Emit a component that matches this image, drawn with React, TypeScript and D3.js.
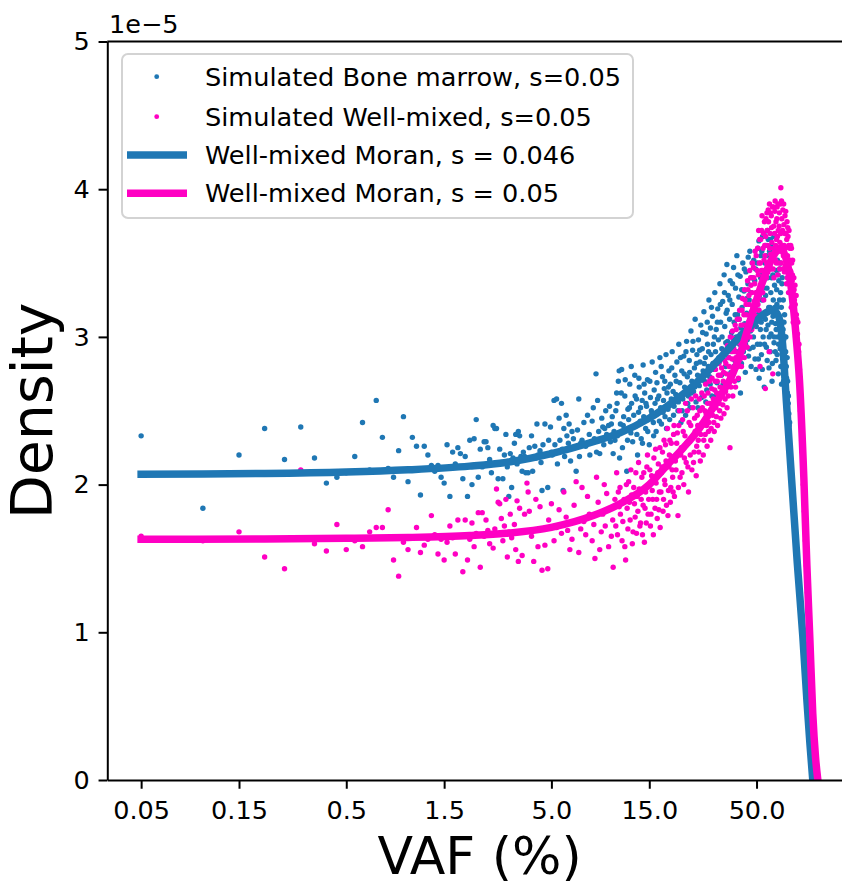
import React, { useEffect, useRef } from 'react';
import * as d3 from 'd3';

// VAF (%) ticks
const xTickValues = [0.05, 0.15, 0.5, 1.5, 5, 15, 50];
const xTickLabels = ['0.05', '0.15', '0.5', '1.5', '5.0', '15.0', '50.0'];
const yTickValues = [0, 1, 2, 3, 4, 5];

// density values are in units of 1e-5
const boneMarrowPoints: [number, number][] = [
  [0.05, 2.33], [0.1, 1.84], [0.15, 2.2], [0.2, 2.38], [0.25, 2.17], [0.3, 2.39], [0.35, 2.18], [0.4, 2.01],
  [0.45, 2.05], [0.5, 2.08], [0.55, 2.19], [0.6, 2.42], [0.65, 2.1], [0.7, 2.57], [0.75, 2.32], [0.8, 2.11],
  [0.85, 2.05], [0.9, 2.23], [0.95, 2.46], [1.0, 2.02], [1.05, 2.32], [1.1, 2.26], [1.15, 1.93], [1.2, 2.26],
  [1.25, 2.2], [1.3, 2.13], [1.35, 2.09], [1.4, 2.13], [1.45, 2.05], [1.5, 2.01], [1.55, 2.27], [1.6, 1.92],
  [1.65, 2.22], [1.7, 2.14], [1.75, 2.25], [1.8, 2.21], [1.85, 2.04], [1.9, 2.19], [1.95, 1.92], [2.0, 2.3],
  [2.05, 2.0], [2.1, 2.31], [2.15, 2.44], [2.2, 2.05], [2.25, 2.24], [2.3, 2.12], [2.35, 2.29], [2.4, 2.29],
  [2.45, 2.25], [2.5, 2.17], [2.55, 2.08], [2.6, 2.4], [2.65, 2.38], [2.7, 2.38], [2.75, 2.04], [2.8, 2.24],
  [2.85, 2.15], [2.9, 2.04], [2.95, 2.2], [3.0, 2.34], [3.05, 2.12], [3.1, 1.92], [3.15, 2.21], [3.2, 1.98],
  [3.25, 2.18], [3.3, 2.28], [3.35, 2.34], [3.4, 2.14], [3.45, 2.36], [3.5, 2.33], [3.55, 2.19], [3.6, 2.09],
  [3.65, 2.22], [3.7, 2.19], [3.75, 2.08], [3.85, 2.08], [3.9, 2.25], [4.0, 2.33], [4.05, 2.09], [4.15, 2.26],
  [4.2, 2.18], [4.25, 2.41], [4.3, 2.2], [4.4, 2.23], [4.45, 2.15], [4.5, 1.96], [4.55, 2.27], [4.65, 2.41],
  [4.7, 2.2], [4.8, 1.98], [4.85, 2.3], [4.95, 2.39],
  [5.0, 2.22], [5.05, 2.2], [5.15, 2.57], [5.2, 2.27], [5.3, 2.58], [5.35, 2.14], [5.45, 2.45], [5.5, 2.3],
  [5.6, 2.55], [5.65, 2.24], [5.7, 1.96], [5.75, 2.38], [5.8, 2.19], [5.9, 2.47], [5.95, 2.33], [6.05, 2.28],
  [6.1, 2.41], [6.2, 2.16], [6.3, 2.36], [6.4, 2.31], [6.5, 2.25], [6.6, 2.09], [6.7, 2.37], [6.8, 2.58],
  [6.85, 2.19], [6.95, 2.28], [7.05, 2.3], [7.2, 2.42], [7.35, 2.26], [7.5, 2.47], [7.65, 2.34], [7.7, 2.2],
  [7.8, 2.29], [7.9, 2.43], [8.0, 2.52], [8.1, 2.31], [8.25, 2.75], [8.3, 2.22], [8.4, 2.57], [8.5, 2.36],
  [8.6, 2.21], [8.7, 2.3], [8.8, 2.45], [8.9, 2.39], [9.0, 2.27], [9.1, 2.38], [9.2, 2.5], [9.3, 2.34],
  [9.4, 2.32], [9.5, 2.4], [9.6, 2.53], [9.7, 2.29], [9.8, 2.41], [9.9, 2.46], [10.0, 2.21], [10.1, 2.36],
  [10.2, 2.3], [10.3, 2.5], [10.4, 2.62],
  [10.5, 2.33], [10.6, 2.7], [10.7, 2.77], [10.85, 2.41], [11.0, 2.78], [11.1, 2.25], [11.25, 2.46], [11.4, 2.6],
  [11.5, 2.37], [11.65, 2.09], [11.8, 2.51], [11.9, 2.44], [12.05, 2.68], [12.2, 2.35], [12.3, 2.55], [12.45, 2.29],
  [12.6, 2.47], [12.75, 2.74], [12.85, 2.4], [13.0, 2.58], [13.15, 2.2], [13.3, 2.49], [13.4, 2.66], [13.55, 2.43],
  [13.7, 2.31], [13.85, 2.57], [14.0, 2.81], [14.1, 2.46], [14.25, 2.62], [14.4, 2.38], [14.55, 2.53], [14.7, 2.71],
  [14.85, 2.44], [15.0, 2.27], [15.2, 2.59], [15.35, 2.5], [15.5, 2.83], [15.7, 2.42], [15.85, 2.64], [16.0, 2.55],
  [16.2, 2.36], [16.35, 2.69], [16.5, 2.48], [16.7, 2.6], [16.9, 2.86], [17.05, 2.52], [17.2, 2.41], [17.4, 2.73],
  [17.6, 2.57], [17.75, 2.65], [17.9, 2.46], [18.1, 2.88], [18.3, 2.62], [18.5, 2.51], [18.7, 2.77], [18.85, 2.44],
  [19.0, 2.68], [19.2, 2.58], [19.4, 2.9], [19.6, 2.63], [19.8, 2.53], [20.0, 2.74],
  [20.2, 2.61], [20.45, 2.83], [20.7, 2.5], [20.9, 2.95], [21.15, 2.69], [21.4, 2.42], [21.6, 2.77], [21.85, 2.58],
  [22.1, 2.87], [22.3, 2.66], [22.55, 2.47], [22.8, 2.97], [23.0, 2.73], [23.25, 2.6], [23.5, 2.84], [23.7, 2.52],
  [23.95, 3.04], [24.2, 2.7], [24.4, 2.91], [24.65, 2.63], [24.9, 2.79], [25.1, 3.12], [25.35, 2.56], [25.6, 2.88],
  [25.8, 2.74], [26.05, 2.98], [26.3, 2.67], [26.5, 2.83], [26.75, 3.08], [27.0, 2.59], [27.2, 2.92], [27.45, 2.77],
  [27.7, 3.17], [27.9, 2.7], [28.15, 2.86], [28.4, 3.02], [28.6, 2.64], [28.85, 2.95], [29.1, 2.8], [29.3, 3.25],
  [29.55, 2.73], [29.8, 3.06], [30.0, 2.88], [30.3, 2.6], [30.5, 3.14], [30.8, 2.95], [31.05, 2.78], [31.3, 3.3],
  [31.55, 2.9], [31.8, 3.05], [32.1, 2.69], [32.35, 3.19], [32.6, 2.98], [32.9, 2.83], [33.15, 3.36], [33.4, 3.1],
  [33.7, 2.74], [33.95, 3.0], [34.2, 3.24], [34.5, 2.91], [34.75, 3.42], [35.0, 3.07], [35.3, 2.8], [35.55, 3.16],
  [35.85, 3.49], [36.1, 2.97], [36.4, 3.28], [36.65, 2.86], [36.95, 3.12], [37.2, 3.38], [37.5, 2.76], [37.8, 3.03],
  [38.05, 3.22], [38.35, 2.93], [38.65, 3.47], [38.9, 3.1], [39.2, 2.84], [39.5, 3.33], [39.8, 3.0], [40.1, 3.55],
  [40.4, 3.15], [40.7, 2.71], [41.0, 3.27], [41.3, 2.95], [41.6, 3.41], [41.9, 3.06], [42.2, 2.82], [42.5, 3.2],
  [42.85, 3.5], [43.15, 2.9], [43.45, 3.31], [43.8, 3.09], [44.1, 2.76], [44.4, 3.44], [44.75, 3.16], [45.05, 2.98],
  [45.4, 3.36], [45.7, 2.87], [46.05, 3.25], [46.4, 3.58], [46.7, 3.04], [47.05, 2.8], [47.4, 3.4], [47.75, 3.13],
  [48.1, 2.93], [48.45, 3.52], [48.8, 3.22], [49.15, 2.85], [49.5, 3.46], [49.85, 3.07],
  [50.2, 3.3], [50.5, 2.95], [50.85, 3.6], [51.2, 3.18], [51.5, 2.72], [51.85, 3.42], [52.2, 3.05], [52.5, 3.55],
  [52.85, 2.88], [53.2, 3.25], [53.5, 3.68], [53.85, 3.0], [54.2, 3.38], [54.5, 2.66], [54.85, 3.5], [55.2, 3.12],
  [55.5, 3.62], [55.85, 2.93], [56.2, 3.33], [56.5, 3.72], [56.85, 3.08], [57.2, 3.46], [57.5, 2.79], [57.85, 3.58],
  [58.2, 3.2], [58.5, 3.66], [58.85, 3.02], [59.2, 3.4], [59.5, 2.7], [59.85, 3.52], [60.2, 3.14], [60.5, 3.6],
  [60.85, 2.96], [61.2, 3.35], [61.5, 3.57], [61.85, 3.09], [62.2, 2.84], [62.5, 3.45], [62.85, 3.22], [63.2, 3.52],
  [63.5, 3.0], [63.85, 2.75], [64.2, 3.38], [64.5, 3.13], [64.85, 3.46], [65.2, 2.92], [65.5, 3.3], [65.85, 3.05],
  [66.2, 2.68], [66.5, 3.36], [66.85, 3.1], [67.2, 2.88], [67.5, 3.25], [67.85, 2.98], [68.2, 2.73], [68.5, 3.15],
  [68.85, 2.9], [69.2, 2.62], [69.5, 3.0], [69.85, 2.8], [70.2, 2.55], [70.5, 2.86], [70.85, 2.7], [71.2, 2.39],
  [71.5, 2.6], [71.85, 2.48], [72.2, 2.3], [72.5, 2.42],
  [73.0, 2.2], [74.0, 2.05], [75.0, 1.95], [76.0, 1.82], [77.0, 1.72], [78.0, 1.6], [79.0, 1.5], [80.0, 1.39],
  [81.0, 1.28], [82.0, 1.18], [83.0, 1.08], [84.0, 0.98], [85.0, 0.88], [86.0, 0.77], [87.0, 0.66], [88.0, 0.54],
  [89.0, 0.42], [90.0, 0.32], [91.0, 0.22], [92.0, 0.13], [93.0, 0.06],
  // denser part of the cloud
  [10.45, 2.55], [10.75, 2.18], [10.95, 2.62], [11.2, 2.4], [11.45, 2.71], [11.75, 2.3], [12.0, 2.52], [12.25, 2.8],
  [12.55, 2.39], [12.8, 2.6], [13.05, 2.34], [13.35, 2.72], [13.6, 2.52], [13.9, 2.28], [14.15, 2.68], [14.45, 2.55],
  [14.75, 2.36], [15.1, 2.7], [15.45, 2.48], [15.75, 2.33], [16.1, 2.76], [16.45, 2.58], [16.8, 2.43], [17.15, 2.8],
  [17.5, 2.49], [17.85, 2.7], [18.2, 2.38], [18.6, 2.66], [18.95, 2.55], [19.3, 2.79], [19.7, 2.47],
  [20.3, 2.7], [20.8, 2.56], [21.3, 2.86], [21.7, 2.5], [22.2, 2.75], [22.65, 2.9], [23.1, 2.55], [23.6, 2.76],
  [24.05, 2.62], [24.5, 2.97], [25.0, 2.66], [25.45, 2.82], [25.9, 2.52], [26.4, 2.91], [26.85, 2.72], [27.3, 3.03],
  [27.8, 2.82], [28.3, 2.56], [28.75, 3.1], [29.2, 2.9], [29.7, 2.68], [30.15, 3.2], [30.65, 2.82], [31.15, 3.0],
  [31.7, 2.6], [32.2, 3.1], [32.75, 2.86], [33.3, 3.22], [33.85, 2.92], [34.35, 2.68], [34.9, 3.3], [35.4, 2.96],
  [35.95, 3.18], [36.5, 2.7], [37.05, 3.25], [37.6, 3.0], [38.2, 3.36], [38.75, 2.8], [39.35, 3.15], [39.95, 2.9],
  [40.55, 3.42], [41.15, 3.12], [41.75, 2.62], [42.35, 3.32], [42.95, 3.02], [43.6, 3.46], [44.2, 2.95], [44.9, 3.26],
  [45.55, 3.54], [46.2, 2.92], [46.9, 3.3], [47.6, 3.5], [48.3, 3.0], [49.0, 3.38], [49.7, 2.78],
  [50.35, 3.5], [50.7, 3.15], [51.05, 2.85], [51.35, 3.65], [51.7, 3.28], [52.05, 2.95], [52.35, 3.4], [52.7, 3.1],
  [53.05, 3.58], [53.35, 2.78], [53.7, 3.33], [54.05, 3.15], [54.35, 3.7], [54.7, 2.95], [55.05, 3.45], [55.35, 3.28],
  [55.7, 3.05], [56.05, 3.55], [56.35, 2.84], [56.7, 3.4], [57.05, 3.66], [57.35, 3.2], [57.7, 3.0], [58.05, 3.48],
  [58.35, 2.9], [58.7, 3.3], [59.05, 3.62], [59.35, 3.1], [59.7, 2.82], [60.05, 3.42], [60.35, 3.25], [60.7, 3.68],
  [61.05, 3.0], [61.35, 3.2], [61.7, 2.9], [62.05, 3.6], [62.35, 3.05], [62.7, 3.32], [63.05, 2.88], [63.35, 3.2],
  [63.7, 3.42], [64.05, 2.95], [64.35, 3.6], [64.7, 3.25], [65.05, 3.0], [65.35, 3.5], [65.7, 2.8], [66.05, 3.2],
  [66.35, 2.98], [66.7, 3.4], [67.05, 2.8], [67.35, 3.05], [67.7, 2.7], [68.05, 3.1], [68.35, 2.85], [68.7, 3.0],
  [69.05, 2.75], [69.35, 2.9], [69.7, 2.6], [70.05, 2.72], [70.35, 2.5], [70.7, 2.62], [71.05, 2.45], [71.35, 2.55],
  [71.7, 2.35], [72.05, 2.4],
];

const wellMixedPoints: [number, number][] = [
  [0.05, 1.65], [0.1, 1.62], [0.15, 1.68], [0.2, 1.51], [0.25, 1.43], [0.3, 2.1], [0.35, 1.6], [0.4, 1.55],
  [0.45, 1.73], [0.5, 1.56], [0.55, 1.62], [0.6, 1.58], [0.65, 1.68], [0.7, 1.71], [0.75, 1.71], [0.8, 1.83],
  [0.85, 1.49], [0.9, 1.38], [0.95, 1.61], [1.0, 1.56], [1.05, 1.64], [1.1, 1.71], [1.15, 1.54], [1.2, 1.59],
  [1.25, 1.63], [1.3, 1.79], [1.35, 1.66], [1.4, 1.53], [1.45, 1.63], [1.5, 1.49], [1.55, 1.61], [1.6, 1.72],
  [1.65, 1.64], [1.7, 1.53], [1.75, 1.76], [1.8, 1.65], [1.85, 1.41], [1.9, 1.76], [1.95, 1.49], [2.0, 1.63],
  [2.05, 1.74], [2.1, 1.58], [2.15, 1.67], [2.2, 1.81], [2.25, 1.44], [2.3, 1.81], [2.35, 1.65], [2.4, 1.76],
  [2.45, 1.69], [2.5, 1.6], [2.55, 1.66], [2.6, 1.57], [2.65, 1.7], [2.7, 1.97], [2.75, 1.88], [2.8, 1.87],
  [2.85, 1.77], [2.9, 1.62], [2.95, 1.72], [3.0, 1.9], [3.05, 1.51], [3.1, 1.68], [3.15, 1.8], [3.2, 1.64],
  [3.25, 1.67], [3.3, 1.73], [3.35, 1.56], [3.4, 1.89], [3.45, 1.48], [3.5, 1.84], [3.6, 1.52], [3.7, 1.8],
  [3.8, 2.01], [3.85, 1.95], [3.9, 1.82], [4.0, 1.65], [4.1, 1.48], [4.2, 1.9], [4.3, 1.58], [4.4, 1.85],
  [4.5, 1.42], [4.65, 1.59], [4.8, 1.43], [4.85, 1.76],
  [5.0, 1.87], [5.15, 1.62], [5.3, 1.71], [5.45, 1.83], [5.6, 1.67], [5.75, 1.95], [5.9, 1.78], [6.0, 1.69],
  [6.15, 1.56], [6.3, 1.63], [6.45, 1.86], [6.6, 2.02], [6.8, 1.54], [6.95, 1.7], [7.05, 1.98], [7.2, 1.75],
  [7.35, 1.66], [7.5, 1.92], [7.65, 1.8], [7.9, 1.62], [8.05, 1.73], [8.15, 1.5], [8.3, 2.05], [8.45, 1.88],
  [8.6, 1.56], [8.75, 1.68], [8.9, 1.8], [9.05, 2.0], [9.15, 1.72], [9.3, 1.94], [9.5, 1.58], [9.65, 1.84],
  [9.8, 1.65], [9.95, 1.76], [10.0, 1.44], [10.2, 1.9],
  [10.3, 1.72], [10.4, 2.08], [10.6, 1.95], [10.7, 1.85], [10.85, 1.8], [11.05, 1.62], [11.3, 1.9], [11.5, 1.49],
  [11.7, 1.84], [11.9, 2.02], [12.1, 1.76], [12.3, 1.93], [12.5, 1.68], [12.7, 1.87], [12.9, 2.08], [13.0, 1.67],
  [13.2, 1.82], [13.4, 1.97], [13.6, 1.74], [13.8, 2.05], [14.0, 1.86], [14.2, 1.61], [14.4, 1.95], [14.6, 2.12],
  [14.8, 1.8], [15.0, 1.99], [15.2, 1.72], [15.4, 2.06], [15.6, 1.9], [15.8, 2.18], [16.0, 1.84], [16.2, 2.01],
  [16.4, 1.77], [16.6, 2.14], [16.8, 1.95], [16.95, 1.71], [17.2, 2.08], [17.4, 2.22], [17.6, 1.9], [17.8, 2.03],
  [18.0, 2.27], [18.2, 1.86], [18.5, 1.79], [18.7, 2.12], [18.9, 2.3], [19.1, 1.98], [19.3, 2.19], [19.5, 2.05],
  [19.7, 2.34], [19.9, 1.92], [20.1, 2.16],
  [20.4, 2.28], [20.7, 1.79], [20.9, 2.4], [21.2, 2.05], [21.5, 2.25], [21.8, 2.44], [22.1, 2.0], [22.4, 2.33],
  [22.7, 2.15], [23.0, 2.5], [23.3, 1.95], [23.6, 2.29], [23.9, 2.4], [24.2, 2.1], [24.5, 2.52], [24.8, 2.22],
  [25.1, 2.36], [25.4, 2.06], [25.7, 2.47], [26.0, 2.3], [26.3, 2.58], [26.6, 2.16], [26.9, 2.41], [27.2, 2.52],
  [27.5, 2.2], [27.8, 2.6], [28.1, 2.34], [28.4, 2.48], [28.7, 2.26], [29.0, 2.62], [29.3, 2.42], [29.6, 2.55],
  [29.9, 2.3], [30.2, 2.65], [30.5, 2.47], [30.8, 2.58], [31.1, 2.36], [31.4, 2.7], [31.7, 2.52], [32.0, 2.62],
  [32.3, 2.4], [32.6, 2.74], [32.9, 2.55], [33.2, 2.66], [33.5, 2.45], [33.8, 2.79], [34.1, 2.6], [34.4, 2.7],
  [34.7, 2.48], [35.0, 2.84], [35.3, 2.63], [35.6, 2.75], [35.9, 2.52], [36.2, 2.9], [36.5, 2.68], [36.8, 2.8],
  [37.1, 2.25], [37.4, 2.94], [37.7, 2.72], [38.0, 2.85], [38.3, 2.6], [38.6, 2.99], [38.9, 2.78], [39.2, 2.9],
  [39.5, 2.66], [39.8, 3.05], [40.1, 2.84], [40.5, 2.96], [40.8, 2.72], [41.1, 3.12], [41.5, 2.9], [41.8, 3.02],
  [42.2, 2.8], [42.5, 3.18], [42.9, 2.97], [43.2, 3.08], [43.6, 2.86], [43.9, 3.25], [44.3, 3.03], [44.6, 3.15],
  [45.0, 2.93], [45.4, 3.32], [45.7, 3.1], [46.1, 3.22], [46.5, 3.0], [46.8, 3.4], [47.2, 3.17], [47.6, 3.3],
  [47.9, 3.07], [48.3, 3.47], [48.7, 3.24], [49.0, 3.36], [49.4, 3.14], [49.8, 3.55],
  [50.2, 3.3], [50.6, 3.6], [51.0, 3.42], [51.4, 3.18], [51.8, 3.66], [52.0, 2.8], [52.2, 3.5], [52.6, 3.3],
  [53.0, 3.72], [53.4, 3.45], [53.8, 3.6], [54.2, 3.25], [54.6, 3.78], [55.0, 3.55], [55.2, 2.65], [55.4, 3.68],
  [55.8, 3.4], [56.2, 3.84], [56.6, 3.62], [57.0, 3.86], [57.4, 3.5], [57.6, 2.9], [57.8, 3.9], [58.2, 3.7],
  [58.6, 3.56], [59.0, 3.82], [59.4, 3.64], [59.8, 3.88], [60.0, 2.75], [60.2, 3.46], [60.6, 3.75], [61.0, 3.6],
  [61.4, 3.85], [61.8, 3.52], [62.2, 3.78], [62.6, 3.66], [63.0, 3.88], [63.4, 3.42], [63.8, 3.72], [64.2, 3.58],
  [64.6, 3.84], [65.0, 3.64], [65.7, 4.01], [66.0, 3.5], [66.4, 3.8], [66.8, 3.62], [67.2, 3.86], [67.6, 3.55],
  [68.0, 3.76], [68.4, 3.44], [68.8, 3.82], [69.2, 3.6], [69.6, 3.7], [70.0, 3.36], [70.4, 3.78], [70.8, 3.55],
  [71.2, 3.68], [71.6, 3.3], [72.0, 3.72], [72.6, 3.6], [73.0, 3.45], [73.4, 3.62], [73.8, 3.2], [74.2, 3.5],
  [74.6, 3.38], [75.0, 3.52], [75.5, 3.1], [76.0, 3.4], [76.5, 3.25], [77.0, 3.35], [77.5, 3.0], [78.0, 3.28],
  [78.5, 3.12], [79.0, 2.95], [79.5, 3.1], [80.0, 2.85], [80.5, 2.95], [81.0, 2.78], [81.5, 2.62], [82.0, 2.55],
  [82.5, 2.45], [83.0, 2.3], [83.5, 2.22], [84.0, 2.1], [84.5, 2.0], [85.0, 1.9], [85.5, 1.82], [86.0, 1.72],
  [86.5, 1.62], [87.0, 1.55], [87.5, 1.45], [88.0, 1.36], [88.5, 1.27], [89.0, 1.18], [90.0, 1.02], [91.0, 0.86],
  [92.0, 0.72], [93.0, 0.58], [94.0, 0.45], [95.0, 0.34], [96.0, 0.24], [97.0, 0.14], [98.0, 0.07], [99.0, 0.02],
  // denser part of the cloud
  [10.5, 1.66], [10.8, 1.98], [11.15, 1.75], [11.4, 1.58], [11.6, 2.0], [11.8, 1.7], [12.0, 1.88], [12.2, 2.1],
  [12.4, 1.6], [12.6, 1.98], [12.8, 1.78], [13.1, 1.92], [13.3, 2.15], [13.5, 1.72], [13.7, 1.9], [13.9, 1.66],
  [14.1, 2.08], [14.3, 1.84], [14.5, 1.74], [14.7, 2.2], [14.9, 1.9], [15.1, 2.1], [15.3, 1.8], [15.5, 1.96],
  [15.7, 1.66], [15.9, 2.05], [16.1, 2.24], [16.3, 1.9], [16.5, 2.08], [16.7, 1.83], [16.9, 2.25], [17.1, 1.95],
  [17.3, 2.12], [17.5, 1.82], [17.7, 2.3], [17.9, 2.0], [18.1, 2.16], [18.4, 2.38], [18.6, 1.96], [18.8, 2.2],
  [19.0, 1.88], [19.2, 2.28], [19.4, 2.1], [19.6, 1.95], [19.8, 2.4],
  [20.25, 2.1], [20.55, 2.35], [20.8, 1.98], [21.05, 2.5], [21.35, 2.2], [21.65, 2.08], [21.95, 2.36], [22.25, 2.18],
  [22.55, 2.55], [22.85, 2.28], [23.15, 2.12], [23.45, 2.42], [23.75, 2.2], [24.05, 2.58], [24.35, 2.32], [24.65, 2.15],
  [24.95, 2.45], [25.25, 2.6], [25.55, 2.26], [25.85, 2.4], [26.15, 2.22], [26.45, 2.5], [26.75, 2.34], [27.05, 2.62],
  [27.35, 2.4], [27.65, 2.3], [27.95, 2.5], [28.25, 2.68], [28.55, 2.4], [28.85, 2.55], [29.15, 2.36], [29.45, 2.7],
  [29.75, 2.48], [30.05, 2.38], [30.35, 2.72], [30.65, 2.55], [30.95, 2.42], [31.25, 2.64], [31.55, 2.78], [31.85, 2.46],
  [32.15, 2.7], [32.45, 2.58], [32.75, 2.82], [33.05, 2.5], [33.35, 2.74], [33.65, 2.62], [33.95, 2.86], [34.25, 2.54],
  [34.55, 2.76], [34.85, 2.9], [35.15, 2.58], [35.45, 2.82], [35.75, 2.68], [36.05, 2.94], [36.35, 2.6], [36.65, 2.86],
  [36.95, 2.74], [37.25, 3.0], [37.55, 2.66], [37.85, 2.9], [38.15, 3.04], [38.45, 2.75], [38.75, 2.92], [39.05, 2.7],
  [39.35, 3.08], [39.65, 2.86], [39.95, 2.98], [40.3, 3.12], [40.65, 2.8], [41.0, 3.0], [41.35, 3.18], [41.65, 2.85],
  [42.0, 3.08], [42.35, 2.95], [42.7, 3.26], [43.05, 2.92], [43.4, 3.15], [43.75, 3.32], [44.1, 2.98], [44.45, 3.22],
  [44.8, 3.08], [45.2, 3.38], [45.55, 3.0], [45.9, 3.28], [46.3, 3.45], [46.65, 3.12], [47.0, 3.35], [47.4, 3.05],
  [47.75, 3.5], [48.1, 3.2], [48.5, 3.4], [48.85, 3.1], [49.2, 3.58], [49.6, 3.3],
  [50.4, 3.45], [50.8, 3.22], [51.2, 3.72], [51.6, 3.5], [52.4, 3.66], [52.8, 3.45], [53.2, 3.82], [53.6, 3.3],
  [54.0, 3.7], [54.4, 3.52], [54.8, 3.62], [55.6, 3.8], [56.0, 3.5], [56.4, 3.72], [56.8, 3.44], [57.2, 3.78],
  [58.0, 3.6], [58.4, 3.84], [58.8, 3.46], [59.2, 3.74], [59.6, 3.56], [60.4, 3.88], [60.8, 3.4], [61.2, 3.7],
  [61.6, 3.92], [62.0, 3.62], [62.4, 3.5], [62.8, 3.8], [63.2, 3.68], [63.6, 3.9], [64.0, 3.5], [64.4, 3.75],
  [64.8, 3.46], [65.3, 3.9], [65.6, 3.7], [66.2, 3.92], [66.6, 3.58], [67.0, 3.72], [67.4, 3.46], [67.8, 3.9],
  [68.2, 3.62], [68.6, 3.7], [69.0, 3.48], [69.4, 3.85], [69.8, 3.55], [70.2, 3.66], [70.6, 3.4], [71.0, 3.74],
  [71.4, 3.5], [71.8, 3.62], [72.3, 3.38], [72.8, 3.52], [73.2, 3.3], [73.6, 3.44], [74.0, 3.6], [74.4, 3.25],
  [74.8, 3.42], [75.3, 3.3], [75.8, 3.18], [76.2, 3.32], [76.8, 3.1], [77.2, 3.22], [77.8, 3.05], [78.2, 3.15],
  [78.8, 2.92], [79.2, 3.02], [79.8, 2.8], [80.2, 2.9], [80.8, 2.7], [81.2, 2.66], [81.8, 2.5],
];

// Moran model curves
const moranS046: [number, number][] = [
  [0.05, 2.07], [0.1, 2.072], [0.2, 2.075], [0.5, 2.085], [1, 2.1], [2, 2.125], [3, 2.15], [5, 2.21],
  [8, 2.29], [10.8, 2.35], [15, 2.45], [20, 2.57], [25, 2.68], [30, 2.79], [35, 2.89], [40, 2.98],
  [45, 3.05], [50, 3.11], [55, 3.16], [60, 3.18], [64, 3.14], [67, 2.95], [70, 2.55], [74, 2.05],
  [79, 1.47], [84, 0.98], [88, 0.54], [91, 0.25], [94, 0],
];

const moranS05: [number, number][] = [
  [0.05, 1.63], [0.2, 1.632], [0.5, 1.636], [1, 1.642], [2, 1.655], [3, 1.67], [5, 1.71], [8, 1.79],
  [10.8, 1.87], [15, 2.0], [18, 2.12], [22, 2.25], [26, 2.37], [30, 2.5], [34, 2.62], [38, 2.74],
  [42, 2.9], [45, 3.04], [50, 3.25], [55, 3.42], [60, 3.54], [65, 3.6], [70, 3.52], [75, 3.25],
  [78, 3.0], [81, 2.7], [85, 2.05], [88, 1.45], [91, 0.95], [94, 0.45], [97, 0.15], [99.5, 0],
];

const legendLabels = [
  'Simulated Bone marrow, s=0.05',
  'Simulated Well-mixed, s=0.05',
  'Well-mixed Moran, s = 0.046',
  'Well-mixed Moran, s = 0.05',
];

const BLUE = '#1f77b4';
const PINK = '#ff00c3';
const FONT = 'DejaVu Sans';

const VafChart = () => {
  const chartRef = useRef<SVGSVGElement>(null);

  useEffect(() => {
    drawChart();
  }, []);

  const drawChart = () => {
    const width = 842, height = 886;
    const left = 107.3, right = 852, top = 41.5, bottom = 780;

    const svg = d3.select(chartRef.current);
    svg.selectAll('*').remove();
    svg.attr('width', width).attr('height', height);

    const x = d3.scaleLog().domain([0.0342, 146]).range([left, right]);
    const y = d3.scaleLinear().domain([0, 5]).range([bottom, top]);

    svg.append('defs').append('clipPath').attr('id', 'plot-clip')
      .append('rect').attr('x', left).attr('y', top)
      .attr('width', right - left).attr('height', bottom - top);

    const plot = svg.append('g').attr('clip-path', 'url(#plot-clip)');

    plot.append('g').selectAll('circle').data(boneMarrowPoints).join('circle')
      .attr('cx', d => x(d[0])).attr('cy', d => y(d[1])).attr('r', 2.7).attr('fill', BLUE);

    plot.append('g').selectAll('circle').data(wellMixedPoints).join('circle')
      .attr('cx', d => x(d[0])).attr('cy', d => y(d[1])).attr('r', 2.7).attr('fill', PINK);

    const line = d3.line<[number, number]>()
      .x(d => x(d[0])).y(d => y(d[1]))
      .curve(d3.curveMonotoneX);

    plot.append('path').datum(moranS046).attr('d', line)
      .attr('fill', 'none').attr('stroke', BLUE).attr('stroke-width', 7.5)
      .attr('stroke-linecap', 'square').attr('stroke-linejoin', 'round');
    plot.append('path').datum(moranS05).attr('d', line)
      .attr('fill', 'none').attr('stroke', PINK).attr('stroke-width', 7.5)
      .attr('stroke-linecap', 'square').attr('stroke-linejoin', 'round');

    // axes
    const xAxis = d3.axisBottom(x).tickValues(xTickValues)
      .tickFormat((d, i) => xTickLabels[i]).tickSize(8.75).tickSizeOuter(0).tickPadding(12);
    const yAxis = d3.axisLeft(y).tickValues(yTickValues)
      .tickFormat(d => String(d)).tickSize(8.75).tickSizeOuter(0).tickPadding(8.75);

    const gx = svg.append('g').attr('transform', `translate(0,${bottom})`).call(xAxis);
    const gy = svg.append('g').attr('transform', `translate(${left},0)`).call(yAxis);
    [gx, gy].forEach(g => {
      g.selectAll('path, line').attr('stroke', '#000').attr('stroke-width', 2);
      g.selectAll('text').attr('font-size', 25.5).attr('font-family', FONT).attr('fill', '#000');
    });

    svg.append('line').attr('x1', left).attr('x2', right).attr('y1', top).attr('y2', top)
      .attr('stroke', '#000').attr('stroke-width', 2);
    svg.append('line').attr('x1', right).attr('x2', right).attr('y1', top).attr('y2', bottom)
      .attr('stroke', '#000').attr('stroke-width', 2);

    svg.append('text').attr('x', 109).attr('y', 33)
      .attr('font-size', 25.5).attr('font-family', FONT).text('1e\u22125');

    svg.append('text').attr('x', (left + right) / 2).attr('y', 873.5)
      .attr('text-anchor', 'middle').attr('font-size', 52).attr('font-family', FONT)
      .text('VAF (%)');

    svg.append('text')
      .attr('transform', `translate(52,${(top + bottom) / 2}) rotate(-90)`)
      .attr('text-anchor', 'middle').attr('font-size', 57).attr('font-family', FONT)
      .text('Density');

    // legend
    const legend = svg.append('g');
    legend.append('rect').attr('x', 122).attr('y', 54).attr('width', 511).attr('height', 164)
      .attr('rx', 6).attr('fill', 'rgba(255,255,255,0.8)').attr('stroke', '#d3d3d3').attr('stroke-width', 2);

    const rowY = [76.7, 116.7, 155, 193.3];
    const colors = [BLUE, PINK, BLUE, PINK];
    legendLabels.forEach((label, i) => {
      if (i < 2) {
        legend.append('circle').attr('cx', 156.7).attr('cy', rowY[i]).attr('r', 2.4).attr('fill', colors[i]);
      } else {
        legend.append('line').attr('x1', 127).attr('x2', 187).attr('y1', rowY[i]).attr('y2', rowY[i])
          .attr('stroke', colors[i]).attr('stroke-width', 7.5);
      }
      legend.append('text').attr('x', 205).attr('y', rowY[i] + 9)
        .attr('font-size', 25.6).attr('font-family', FONT).text(label);
    });
  };

  return <svg ref={chartRef} style={{ position: 'absolute', left: 0, top: 0, display: 'block' }} />;
};

export default function App() {
  return <VafChart />;
}
